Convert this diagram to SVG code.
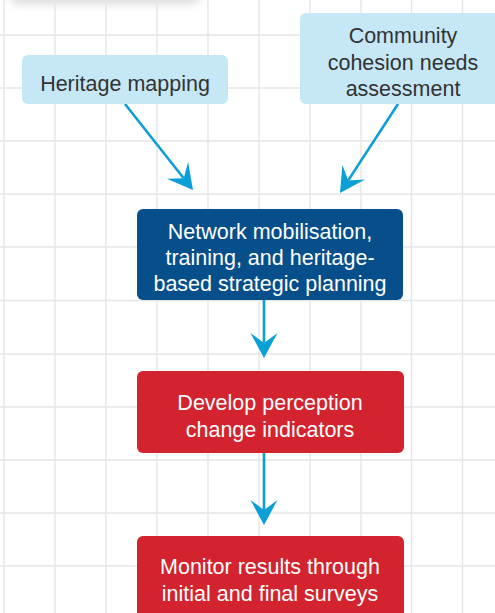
<svg xmlns="http://www.w3.org/2000/svg" width="495" height="613" viewBox="0 0 495 613">
  <style>
    .grid line { stroke: #e6e6e6; stroke-width: 1.4; }
    .node text { font-family: "Liberation Sans", Arial, sans-serif; font-size: 21.5px; text-anchor: middle; }
    .input rect { fill: #c6e8f6; }
    .input text { fill: #333333; }
    .core rect { fill: #064f8b; }
    .step rect { fill: #d2232e; }
    .core text, .step text { fill: #ffffff; }
    .conn line { stroke: #0b9fd8; stroke-width: 2.6; fill: none; marker-end: url(#arr); }
  </style>
  <defs>
    <filter id="shadow" x="-20%" y="-100%" width="140%" height="300%">
      <feGaussianBlur stdDeviation="5"/>
    </filter>
    <marker id="arr" markerUnits="userSpaceOnUse" viewBox="-12 -15 30 30" markerWidth="30" markerHeight="30" refX="0" refY="0" orient="auto" overflow="visible">
      <path d="M15,0 L-10,-13.5 L0,0 L-10,13.5 Z" fill="#0b9fd8"/>
    </marker>
  </defs>
  <rect width="495" height="613" fill="#ffffff"/>
  <rect x="10" y="-40" width="190" height="44" rx="8" fill="#000000" opacity="0.14" filter="url(#shadow)"/>
  <g class="grid">
    <line x1="4" y1="0" x2="4" y2="613"/>
    <line x1="55" y1="0" x2="55" y2="613"/>
    <line x1="106" y1="0" x2="106" y2="613"/>
    <line x1="157" y1="0" x2="157" y2="613"/>
    <line x1="208" y1="0" x2="208" y2="613"/>
    <line x1="259" y1="0" x2="259" y2="613"/>
    <line x1="310" y1="0" x2="310" y2="613"/>
    <line x1="361" y1="0" x2="361" y2="613"/>
    <line x1="411.5" y1="0" x2="411.5" y2="613"/>
    <line x1="462.5" y1="0" x2="462.5" y2="613"/>
    <line x1="0" y1="35" x2="495" y2="35"/>
    <line x1="0" y1="88" x2="495" y2="88"/>
    <line x1="0" y1="141" x2="495" y2="141"/>
    <line x1="0" y1="194" x2="495" y2="194"/>
    <line x1="0" y1="247" x2="495" y2="247"/>
    <line x1="0" y1="300.5" x2="495" y2="300.5"/>
    <line x1="0" y1="354" x2="495" y2="354"/>
    <line x1="0" y1="407" x2="495" y2="407"/>
    <line x1="0" y1="460" x2="495" y2="460"/>
    <line x1="0" y1="513" x2="495" y2="513"/>
    <line x1="0" y1="566" x2="495" y2="566"/>
  </g>
  <g class="conn">
    <line x1="125" y1="104" x2="183.7" y2="178.2"/>
    <line x1="398" y1="104" x2="348.2" y2="180.4"/>
    <line x1="264" y1="300" x2="264" y2="343"/>
    <line x1="264" y1="453" x2="264" y2="510"/>
  </g>
  <g id="heritage" class="node input">
    <rect x="22" y="55" width="206" height="49" rx="6"/>
    <text x="125" y="91">Heritage mapping</text>
  </g>
  <g id="community" class="node input">
    <rect x="300" y="13" width="210" height="91" rx="6"/>
    <text x="403" y="43">Community</text>
    <text x="403" y="69.5">cohesion needs</text>
    <text x="403" y="96">assessment</text>
  </g>
  <g id="network" class="node core">
    <rect x="137" y="209" width="266" height="91" rx="6"/>
    <text x="270" y="238.5">Network mobilisation,</text>
    <text x="270" y="265">training, and heritage-</text>
    <text x="270" y="291">based strategic planning</text>
  </g>
  <g id="develop" class="node step">
    <rect x="137" y="371" width="267" height="82" rx="6"/>
    <text x="270" y="410">Develop perception</text>
    <text x="270" y="437">change indicators</text>
  </g>
  <g id="monitor" class="node step">
    <rect x="137" y="536" width="267" height="90" rx="6"/>
    <text x="270" y="574">Monitor results through</text>
    <text x="270" y="601">initial and final surveys</text>
  </g>
</svg>
